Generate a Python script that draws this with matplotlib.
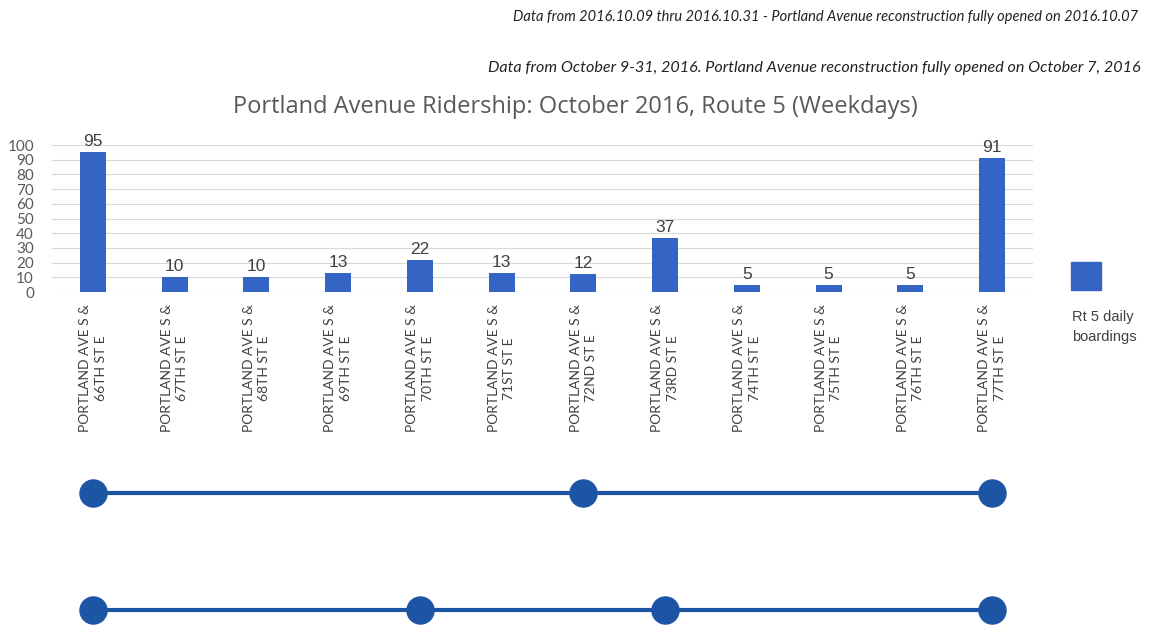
import matplotlib.pyplot as plt
from matplotlib.patches import Rectangle

stops = ['66TH ST E', '67TH ST E', '68TH ST E', '69TH ST E', '70TH ST E', '71ST ST E',
         '72ND ST E', '73RD ST E', '74TH ST E', '75TH ST E', '76TH ST E', '77TH ST E']
boardings = [95, 10, 10, 13, 22, 13, 12, 37, 5, 5, 5, 91]
yticks = [0, 10, 20, 30, 40, 50, 60, 70, 80, 90, 100]

# stop index of each circle on the two route diagrams below the chart
route_a = [0, 6, 11]
route_b = [0, 4, 7, 11]

bar_color = '#3464c4'
line_color = '#1d55a5'
W, H = 1149, 630

fig = plt.figure(figsize=(W / 100, H / 100), dpi=100)
ax = fig.add_axes([52 / W, 1 - 292 / H, 981 / W, 147 / H])

x = list(range(len(stops)))
labels = ['PORTLAND AVE S &\n' + s for s in stops]
bars = ax.bar(x, boardings, width=0.32, color=bar_color)
ax.set_xlim(-0.5, len(stops) - 0.5)
ax.set_ylim(0, 100)
ax.set_yticks(yticks)
ax.tick_params(axis='y', length=0, labelsize=11, labelcolor='#595959', pad=13)
for t in ax.get_yticklabels():
    t.set_fontfamily('Lato')
ax.set_xticks(x)
ax.set_xticklabels(labels, rotation=90, fontsize=10, color='#404040', family='Lato',
                   multialignment='center', va='top', ha='center', linespacing=1.35)
ax.tick_params(axis='x', length=0, pad=9)
ax.yaxis.grid(True, color='#d9d9d9', linewidth=0.8)
ax.set_axisbelow(True)
for s in ax.spines.values():
    s.set_visible(False)

for xi, v in zip(x, boardings):
    ax.text(xi, v + 2, str(v), ha='center', va='bottom', fontsize=12.5,
            color='#404040', family='Liberation Sans', clip_on=False)

fig.text(575 / W, 1 - 107 / H, 'Portland Avenue Ridership: October 2016, Route 5 (Weekdays)',
         ha='center', va='center', fontsize=17, color='#595959', family='Open Sans')
fig.text(1138 / W, 1 - 17 / H,
         'Data from 2016.10.09 thru 2016.10.31 - Portland Avenue reconstruction fully opened on 2016.10.07',
         ha='right', va='center', fontsize=10.5, style='italic', color='#222222', family='Lato')
fig.text(1141 / W, 1 - 68 / H,
         'Data from October 9-31, 2016. Portland Avenue reconstruction fully opened on October 7, 2016',
         ha='right', va='center', fontsize=11.6, style='italic', color='#222222', family='Lato')

# legend
fig.add_artist(Rectangle((1071 / W, 1 - 290 / H), 30 / W, 28 / H,
                         transform=fig.transFigure, color=bar_color))
fig.text(1072 / W, 1 - 327 / H, 'Rt 5 daily\nboardings', ha='left', va='center',
         fontsize=10.5, color='#404040', family='Liberation Sans', linespacing=1.5)

# route diagrams
ax2 = fig.add_axes([52 / W, 0, 981 / W, 160 / H])
ax2.set_xlim(-0.5, len(stops) - 0.5)
ax2.set_ylim(0, 1)
ax2.axis('off')
for stops_idx, yy in [(route_a, 0.856), (route_b, 0.125)]:
    ax2.plot([stops_idx[0], stops_idx[-1]], [yy, yy], color=line_color, linewidth=3, zorder=1)
    ax2.scatter(stops_idx, [yy] * len(stops_idx), s=380, color=line_color, zorder=2,
                clip_on=False)

fig.savefig('out.png', dpi=100)
